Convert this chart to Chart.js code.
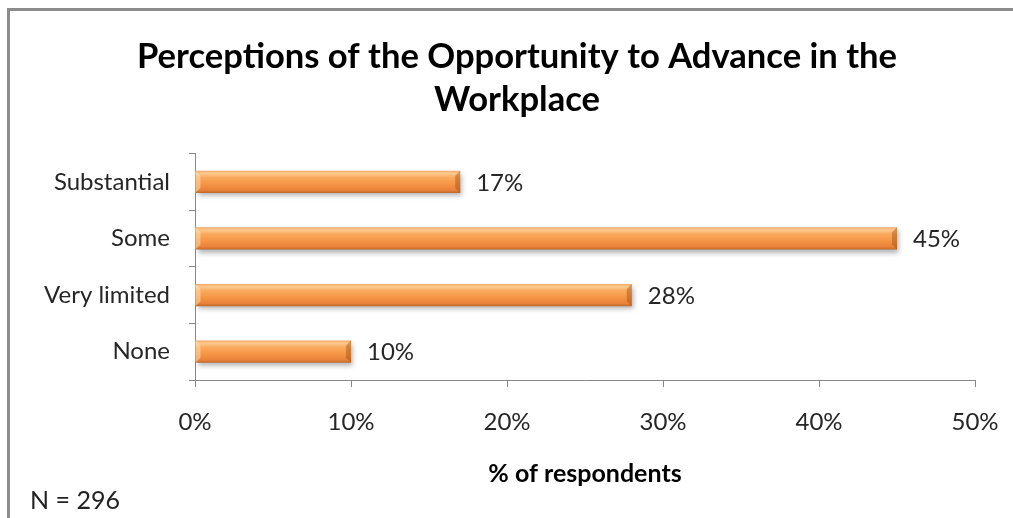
<!DOCTYPE html>
<html>
<head>
<meta charset="utf-8">
<script src="https://cdn.jsdelivr.net/npm/chart.js@4"></script>
<style>
  html, body { margin: 0; padding: 0; background: #fff; overflow: hidden; width: 1013px; height: 518px; }
  #wrap { position: relative; width: 1013px; height: 518px; overflow: hidden; }
  #chart-advance { position: absolute; left: 0; top: 0; }
  .edge { position: absolute; background: #8c8c8c; pointer-events: none; }
  #edge-top { left: 7px; top: 8px; width: 1006px; height: 3px; }
  #edge-left { left: 7px; top: 8px; width: 3px; height: 510px; }
  #note {
    position: absolute; left: 30px; top: 484px;
    font: 25px Lato, sans-serif; color: #222;
  }
</style>
</head>
<body>
<div id="wrap">
  <canvas id="chart-advance" width="1013" height="518"></canvas>
  <div class="edge" id="edge-top"></div>
  <div class="edge" id="edge-left"></div>
  <div id="note">N = 296</div>
</div>
<script>
const TITLE_LINES = ['Perceptions of the Opportunity to Advance in the', 'Workplace'];
const CATEGORIES = ['Substantial', 'Some', 'Very limited', 'None'];
const PERCENTS = [17, 45, 28, 10];
const X_TICKS = [0, 10, 20, 30, 40, 50];
const X_TITLE = '% of respondents';

const FONT = 'Lato, "Open Sans", sans-serif';
const CAT_PCT = 0.8;
const BAR_PCT = 0.49;

// vertical orange gradient per bar, bright lip on top, darker underside
function barFill(c) {
  const chart = c.chart;
  const y = chart.scales.y;
  if (!y || !chart.chartArea) return '#F79646';
  const mid = y.getPixelForValue(c.dataIndex);
  const half = (y.height / CATEGORIES.length) * CAT_PCT * BAR_PCT / 2;
  const g = chart.ctx.createLinearGradient(0, mid - half, 0, mid + half);
  g.addColorStop(0, '#F3A867');
  g.addColorStop(0.12, '#FBC98F');
  g.addColorStop(0.3, '#F9AA5E');
  g.addColorStop(0.6, '#F69545');
  g.addColorStop(0.88, '#E8823A');
  g.addColorStop(1, '#BE6629');
  return g;
}

// title is centred on the whole frame, not just on the plot column
const titleSpan = {
  id: 'titleSpan',
  afterLayout(chart) {
    const t = chart.titleBlock;
    if (!t) return;
    t.left = 0;
    t.right = 1034;
    t.width = t.right - t.left;
  }
};

const barDecor = {
  id: 'barDecor',
  beforeDatasetsDraw(chart) {
    const ctx = chart.ctx;
    ctx.save();
    ctx.shadowColor = 'rgba(0,0,0,0.3)';
    ctx.shadowBlur = 5;
    ctx.shadowOffsetX = 2;
    ctx.shadowOffsetY = 3;
  },
  afterDatasetsDraw(chart) {
    const ctx = chart.ctx;
    ctx.restore();
    const meta = chart.getDatasetMeta(0);
    ctx.save();
    meta.data.forEach((bar, i) => {
      const top = bar.y - bar.height / 2;
      const bottom = bar.y + bar.height / 2;
      const left = bar.base;
      const right = bar.x;
      const b = 5;
      // bevelled end caps
      ctx.fillStyle = 'rgba(255,225,180,0.5)';
      ctx.beginPath();
      ctx.moveTo(left, top); ctx.lineTo(left + b, top + b); ctx.lineTo(left + b, bottom - b); ctx.lineTo(left, bottom);
      ctx.closePath(); ctx.fill();
      ctx.fillStyle = 'rgba(150,70,10,0.4)';
      ctx.beginPath();
      ctx.moveTo(right, top); ctx.lineTo(right - b, top + b); ctx.lineTo(right - b, bottom - b); ctx.lineTo(right, bottom);
      ctx.closePath(); ctx.fill();

      ctx.fillStyle = '#262626';
      ctx.font = '24px ' + FONT;
      ctx.textAlign = 'left';
      ctx.textBaseline = 'middle';
      ctx.fillText(PERCENTS[i] + '%', right + 16, bar.y + 1);
    });
    ctx.restore();
  }
};

new Chart(document.getElementById('chart-advance'), {
  type: 'bar',
  data: {
    labels: CATEGORIES,
    datasets: [{
      data: PERCENTS,
      backgroundColor: barFill,
      borderWidth: 0,
      categoryPercentage: CAT_PCT,
      barPercentage: BAR_PCT
    }]
  },
  options: {
    indexAxis: 'y',
    responsive: false,
    animation: false,
    layout: { padding: { left: 0, right: 38, top: 0, bottom: 0 } },
    plugins: {
      legend: { display: false },
      tooltip: { enabled: false },
      title: {
        display: true,
        text: TITLE_LINES,
        color: '#000',
        font: { family: FONT, size: 34.6, weight: 'bold', lineHeight: 1.25 },
        padding: { top: 35, bottom: 32 }
      }
    },
    scales: {
      x: {
        min: 0, max: 50,
        afterBuildTicks: s => { s.ticks = X_TICKS.map(v => ({ value: v })); },
        afterFit: s => { s.height = 138; s.paddingLeft = 0; s.paddingRight = 0; },
        ticks: {
          callback: v => v + '%',
          color: '#262626',
          font: { family: FONT, size: 24 },
          padding: 21,
          maxRotation: 0
        },
        grid: { drawOnChartArea: false, drawTicks: true, tickLength: 7, color: '#888' },
        border: { color: '#888' },
        title: {
          display: true,
          text: X_TITLE,
          color: '#000',
          font: { family: FONT, size: 25, weight: 'bold' },
          padding: { top: 22, bottom: 29 }
        }
      },
      y: {
        afterFit: s => { s.width = 195; },
        ticks: {
          color: '#262626',
          font: { family: FONT, size: 24 },
          padding: 19
        },
        grid: { drawOnChartArea: false, drawTicks: true, tickLength: 6, color: '#888', offset: true },
        border: { color: '#888' }
      }
    }
  },
  plugins: [titleSpan, barDecor]
});
</script>
</body>
</html>
